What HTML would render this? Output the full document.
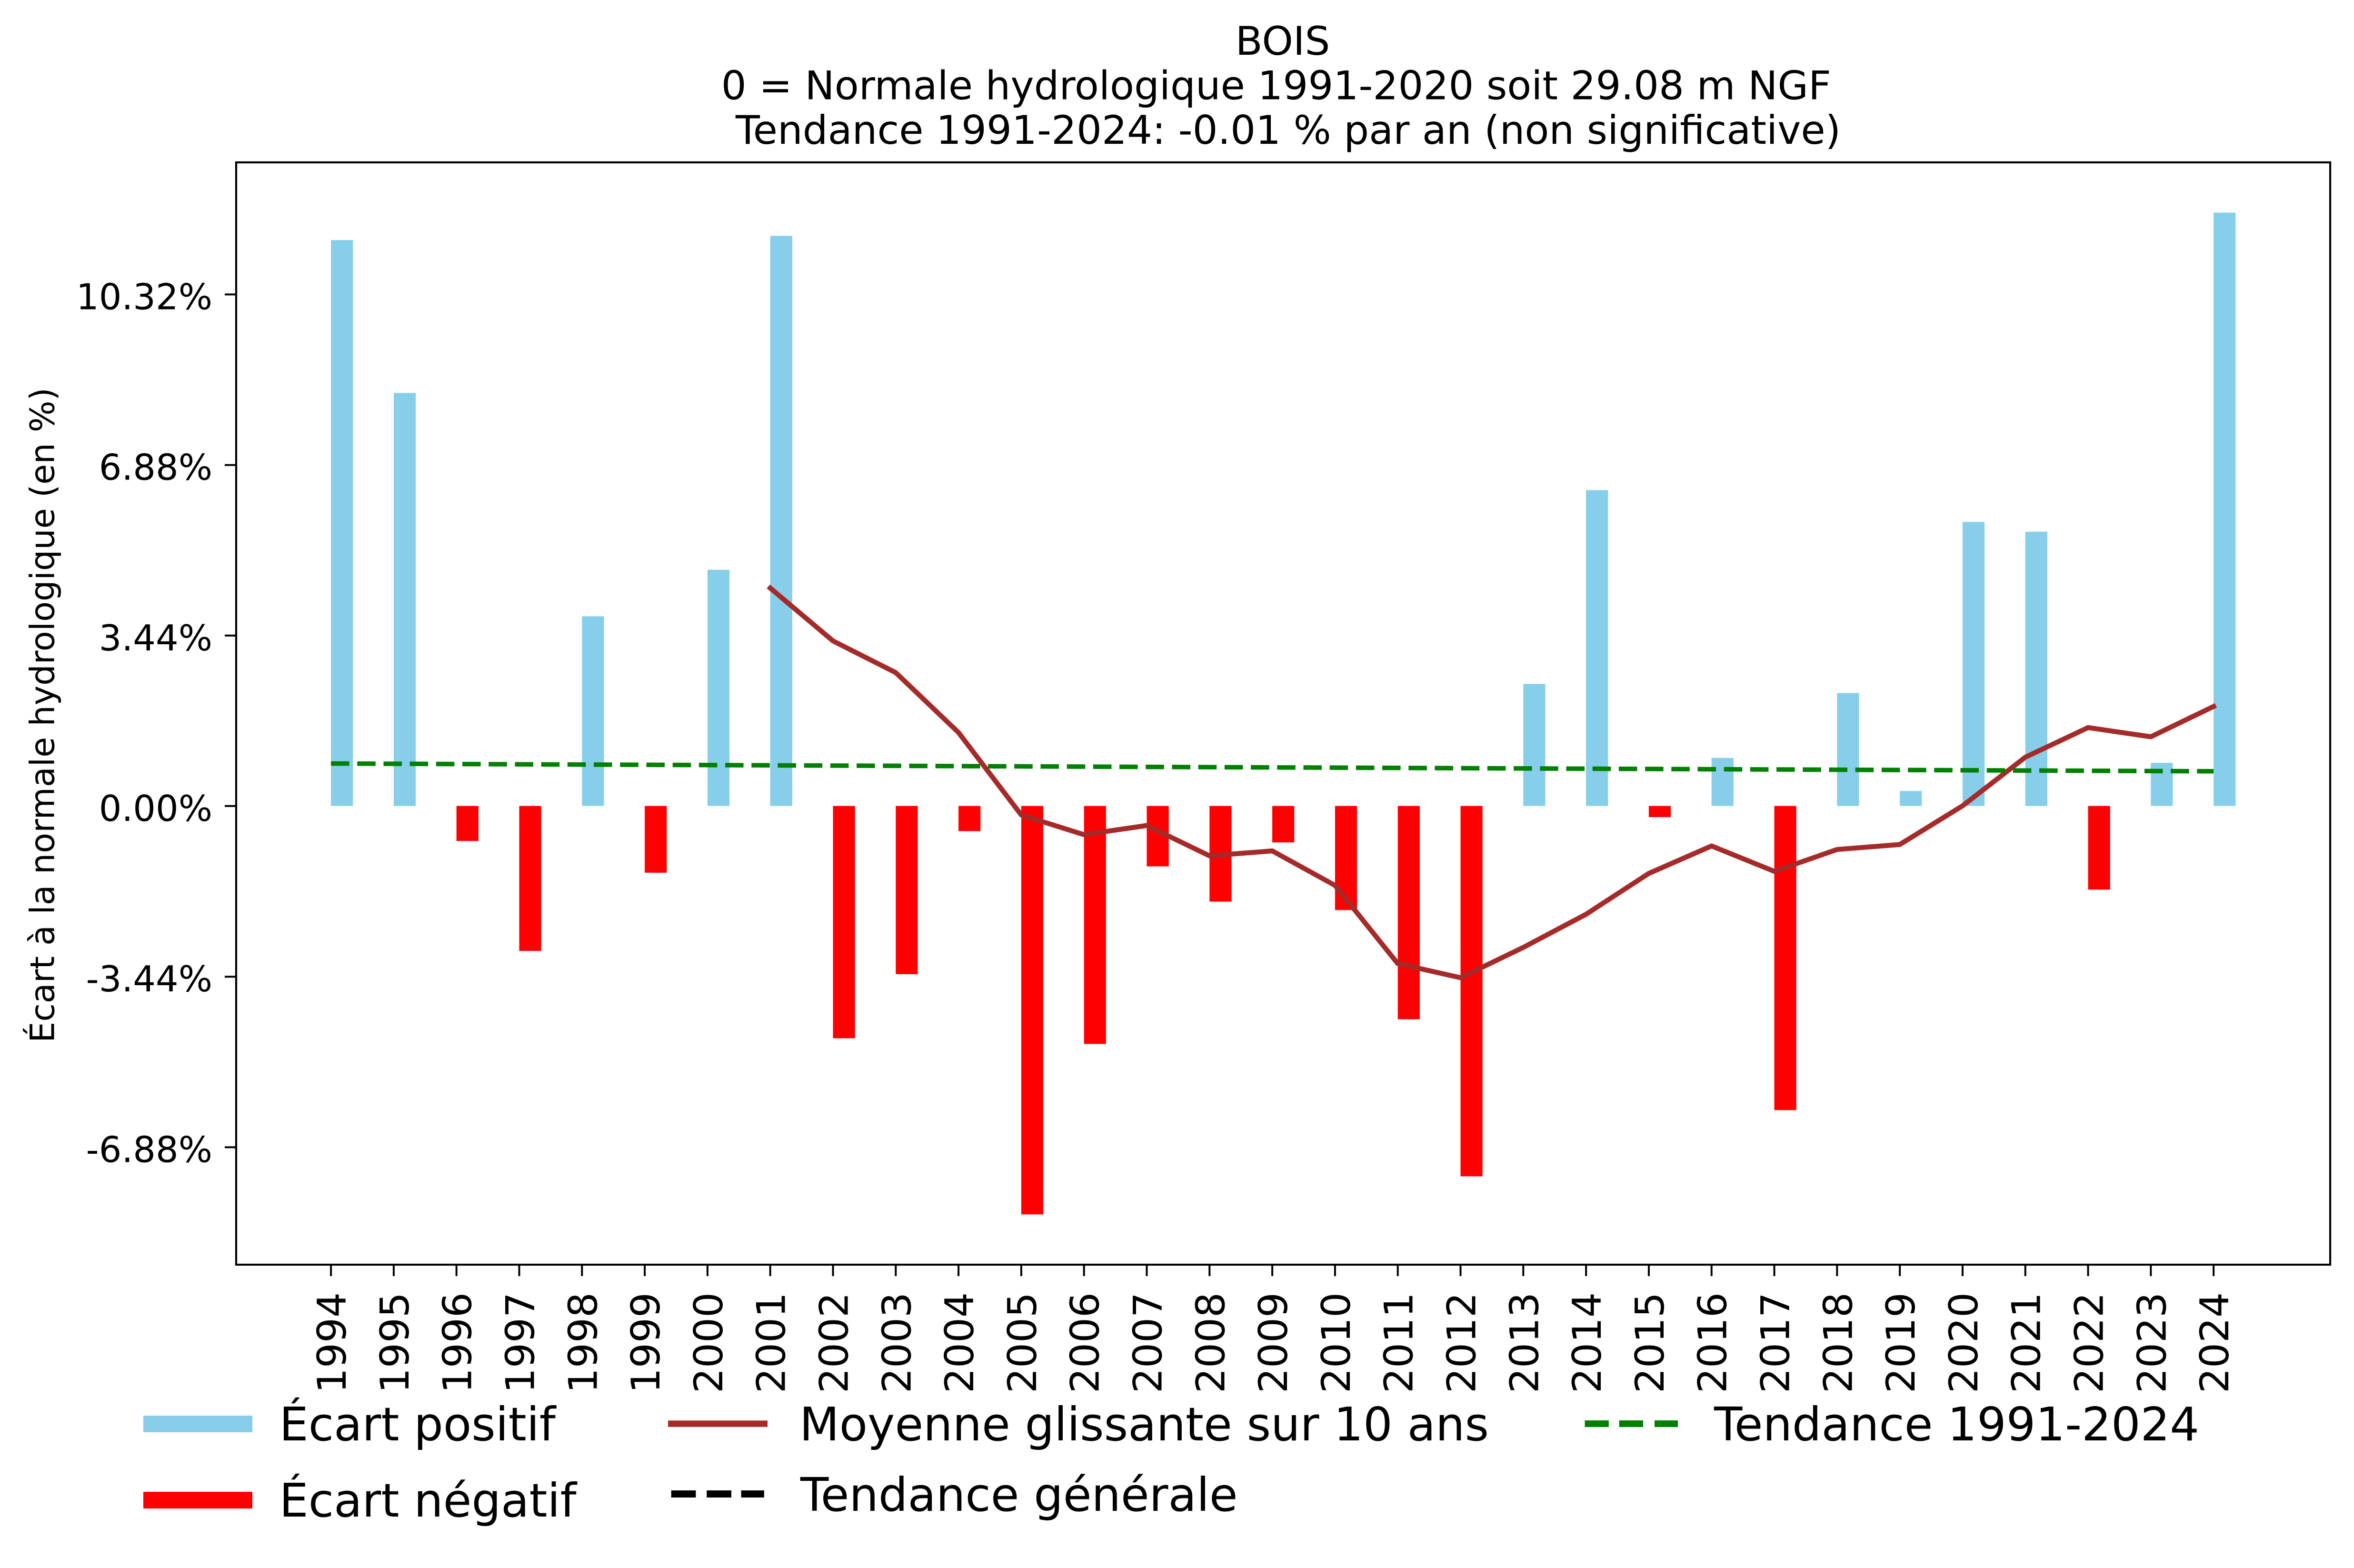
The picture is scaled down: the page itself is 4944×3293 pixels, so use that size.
<!DOCTYPE html>
<html>
<head>
<meta charset="utf-8">
<style>
html,body{margin:0;padding:0;background:#fff;}
svg{display:block;}
text{font-family:"DejaVu Sans","Liberation Sans",sans-serif;fill:#000;}
</style>
</head>
<body>
<svg xmlns="http://www.w3.org/2000/svg" width="4944" height="3293" viewBox="0 0 4944 3293">
<rect x="0" y="0" width="4944" height="3293" fill="#fff"/>

<!-- Title -->
<text x="2694" y="115" font-size="83.3" text-anchor="middle">BOIS</text>
<text x="1514.7" y="208.5" font-size="83.3">0 = Normale hydrologique 1991-2020 soit 29.08 m NGF</text>
<text x="1545" y="302" font-size="83.3">Tendance 1991-2024: -0.01 % par an (non significative)</text>

<!-- Positive bars -->
<g fill="#87CEEB">
<rect x="695.1" y="504.2" width="46.2" height="1188.4"/>
<rect x="826.9" y="825.3" width="46.2" height="867.3"/>
<rect x="1222.3" y="1294.3" width="46.2" height="398.3"/>
<rect x="1485.9" y="1196.6" width="46.2" height="496"/>
<rect x="1617.7" y="495.3" width="46.2" height="1197.3"/>
<rect x="3199.3" y="1436.3" width="46.2" height="256.3"/>
<rect x="3331.1" y="1029.4" width="46.2" height="663.2"/>
<rect x="3594.7" y="1591.7" width="46.2" height="100.9"/>
<rect x="3858.3" y="1455.5" width="46.2" height="237.1"/>
<rect x="3990.1" y="1661.2" width="46.2" height="31.4"/>
<rect x="4121.9" y="1096" width="46.2" height="596.6"/>
<rect x="4253.7" y="1116.7" width="46.2" height="575.9"/>
<rect x="4517.3" y="1602" width="46.2" height="90.6"/>
<rect x="4649.1" y="446.5" width="46.2" height="1246.1"/>
</g>

<!-- Negative bars -->
<g fill="#FF0000">
<rect x="958.7" y="1692.6" width="46.2" height="73.6"/>
<rect x="1090.5" y="1692.6" width="46.2" height="304.4"/>
<rect x="1354.1" y="1692.6" width="46.2" height="140.2"/>
<rect x="1749.5" y="1692.6" width="46.2" height="487.9"/>
<rect x="1881.3" y="1692.6" width="46.2" height="353.3"/>
<rect x="2013.1" y="1692.6" width="46.2" height="52.9"/>
<rect x="2144.9" y="1692.6" width="46.2" height="857.8"/>
<rect x="2276.7" y="1692.6" width="46.2" height="499.8"/>
<rect x="2408.5" y="1692.6" width="46.2" height="126.9"/>
<rect x="2540.3" y="1692.6" width="46.2" height="200.9"/>
<rect x="2672.1" y="1692.6" width="46.2" height="76.6"/>
<rect x="2803.9" y="1692.6" width="46.2" height="218.6"/>
<rect x="2935.7" y="1692.6" width="46.2" height="448"/>
<rect x="3067.5" y="1692.6" width="46.2" height="777.9"/>
<rect x="3462.9" y="1692.6" width="46.2" height="23.4"/>
<rect x="3726.5" y="1692.6" width="46.2" height="638.8"/>
<rect x="4385.5" y="1692.6" width="46.2" height="175.7"/>
</g>

<!-- Moving average -->
<polyline fill="none" stroke="#A52A2A" stroke-width="10.4" stroke-linecap="square" stroke-linejoin="round"
points="1617.7,1235 1749.5,1346 1881.3,1412.6 2013.1,1538.4 2144.9,1711.5 2276.7,1752.9 2408.5,1733.7 2540.3,1797.3 2672.1,1787 2803.9,1859.5 2935.7,2023.7 3067.5,2053.3 3199.3,1989.7 3331.1,1920.1 3462.9,1834.3 3594.7,1776.6 3726.5,1829.9 3858.3,1784 3990.1,1773.6 4121.9,1692.3 4253.7,1590.2 4385.5,1528 4517.3,1547.3 4649.1,1483.7"/>

<!-- Trend 1991-2024 -->
<line x1="695.1" y1="1603.5" x2="4649.1" y2="1619.8" stroke="#008000" stroke-width="9.5" stroke-dasharray="38.5 16.7" stroke-linecap="butt"/>

<!-- Axes frame -->
<rect x="496" y="341" width="4398" height="2315" fill="none" stroke="#000" stroke-width="4.2"/>

<!-- Y ticks -->
<g stroke="#000" stroke-width="4">
<line x1="472" y1="618.4" x2="496" y2="618.4"/>
<line x1="472" y1="976.6" x2="496" y2="976.6"/>
<line x1="472" y1="1334.8" x2="496" y2="1334.8"/>
<line x1="472" y1="1692.8" x2="496" y2="1692.8"/>
<line x1="472" y1="2051.2" x2="496" y2="2051.2"/>
<line x1="472" y1="2409.4" x2="496" y2="2409.4"/>
</g>
<g font-size="75" text-anchor="end">
<text x="446" y="649.4">10.32%</text>
<text x="446" y="1007.6">6.88%</text>
<text x="446" y="1365.8">3.44%</text>
<text x="446" y="1723.8">0.00%</text>
<text x="446" y="2082.2">-3.44%</text>
<text x="446" y="2440.4">-6.88%</text>
</g>

<!-- Y label -->
<text transform="translate(113.5,1502) rotate(-90)" font-size="70" text-anchor="middle">Écart à la normale hydrologique (en %)</text>

<!-- X ticks -->
<g stroke="#000" stroke-width="4">
<line x1="695.1" y1="2656" x2="695.1" y2="2680"/>
<line x1="826.9" y1="2656" x2="826.9" y2="2680"/>
<line x1="958.7" y1="2656" x2="958.7" y2="2680"/>
<line x1="1090.5" y1="2656" x2="1090.5" y2="2680"/>
<line x1="1222.3" y1="2656" x2="1222.3" y2="2680"/>
<line x1="1354.1" y1="2656" x2="1354.1" y2="2680"/>
<line x1="1485.9" y1="2656" x2="1485.9" y2="2680"/>
<line x1="1617.7" y1="2656" x2="1617.7" y2="2680"/>
<line x1="1749.5" y1="2656" x2="1749.5" y2="2680"/>
<line x1="1881.3" y1="2656" x2="1881.3" y2="2680"/>
<line x1="2013.1" y1="2656" x2="2013.1" y2="2680"/>
<line x1="2144.9" y1="2656" x2="2144.9" y2="2680"/>
<line x1="2276.7" y1="2656" x2="2276.7" y2="2680"/>
<line x1="2408.5" y1="2656" x2="2408.5" y2="2680"/>
<line x1="2540.3" y1="2656" x2="2540.3" y2="2680"/>
<line x1="2672.1" y1="2656" x2="2672.1" y2="2680"/>
<line x1="2803.9" y1="2656" x2="2803.9" y2="2680"/>
<line x1="2935.7" y1="2656" x2="2935.7" y2="2680"/>
<line x1="3067.5" y1="2656" x2="3067.5" y2="2680"/>
<line x1="3199.3" y1="2656" x2="3199.3" y2="2680"/>
<line x1="3331.1" y1="2656" x2="3331.1" y2="2680"/>
<line x1="3462.9" y1="2656" x2="3462.9" y2="2680"/>
<line x1="3594.7" y1="2656" x2="3594.7" y2="2680"/>
<line x1="3726.5" y1="2656" x2="3726.5" y2="2680"/>
<line x1="3858.3" y1="2656" x2="3858.3" y2="2680"/>
<line x1="3990.1" y1="2656" x2="3990.1" y2="2680"/>
<line x1="4121.9" y1="2656" x2="4121.9" y2="2680"/>
<line x1="4253.7" y1="2656" x2="4253.7" y2="2680"/>
<line x1="4385.5" y1="2656" x2="4385.5" y2="2680"/>
<line x1="4517.3" y1="2656" x2="4517.3" y2="2680"/>
<line x1="4649.1" y1="2656" x2="4649.1" y2="2680"/>
</g>
<g font-size="83.3" text-anchor="end">
<text transform="translate(726.1,2714) rotate(-90)">1994</text>
<text transform="translate(857.9,2714) rotate(-90)">1995</text>
<text transform="translate(989.7,2714) rotate(-90)">1996</text>
<text transform="translate(1121.5,2714) rotate(-90)">1997</text>
<text transform="translate(1253.3,2714) rotate(-90)">1998</text>
<text transform="translate(1385.1,2714) rotate(-90)">1999</text>
<text transform="translate(1516.9,2714) rotate(-90)">2000</text>
<text transform="translate(1648.7,2714) rotate(-90)">2001</text>
<text transform="translate(1780.5,2714) rotate(-90)">2002</text>
<text transform="translate(1912.3,2714) rotate(-90)">2003</text>
<text transform="translate(2044.1,2714) rotate(-90)">2004</text>
<text transform="translate(2175.9,2714) rotate(-90)">2005</text>
<text transform="translate(2307.7,2714) rotate(-90)">2006</text>
<text transform="translate(2439.5,2714) rotate(-90)">2007</text>
<text transform="translate(2571.3,2714) rotate(-90)">2008</text>
<text transform="translate(2703.1,2714) rotate(-90)">2009</text>
<text transform="translate(2834.9,2714) rotate(-90)">2010</text>
<text transform="translate(2966.7,2714) rotate(-90)">2011</text>
<text transform="translate(3098.5,2714) rotate(-90)">2012</text>
<text transform="translate(3230.3,2714) rotate(-90)">2013</text>
<text transform="translate(3362.1,2714) rotate(-90)">2014</text>
<text transform="translate(3493.9,2714) rotate(-90)">2015</text>
<text transform="translate(3625.7,2714) rotate(-90)">2016</text>
<text transform="translate(3757.5,2714) rotate(-90)">2017</text>
<text transform="translate(3889.3,2714) rotate(-90)">2018</text>
<text transform="translate(4021.1,2714) rotate(-90)">2019</text>
<text transform="translate(4152.9,2714) rotate(-90)">2020</text>
<text transform="translate(4284.7,2714) rotate(-90)">2021</text>
<text transform="translate(4416.5,2714) rotate(-90)">2022</text>
<text transform="translate(4548.3,2714) rotate(-90)">2023</text>
<text transform="translate(4680.1,2714) rotate(-90)">2024</text>
</g>

<!-- Legend -->
<rect x="301" y="2973" width="229" height="35" fill="#87CEEB"/>
<rect x="301" y="3133" width="229" height="35" fill="#FF0000"/>
<rect x="1403" y="2983.3" width="209" height="13.4" fill="#A52A2A"/>
<g fill="#000">
<rect x="1409.7" y="3130" width="51.7" height="15"/>
<rect x="1484.3" y="3130" width="51.7" height="15"/>
<rect x="1556.6" y="3130" width="48.3" height="15"/>
</g>
<g fill="#008000">
<rect x="3328.5" y="2983" width="50.3" height="14"/>
<rect x="3400.6" y="2983" width="50.4" height="14"/>
<rect x="3475" y="2983" width="49" height="14"/>
</g>
<g font-size="97">
<text x="586.5" y="3025">Écart positif</text>
<text x="586.5" y="3185">Écart négatif</text>
<text x="1679" y="3025">Moyenne glissante sur 10 ans</text>
<text x="1681" y="3173">Tendance générale</text>
<text x="3600" y="3025">Tendance 1991-2024</text>
</g>
</svg>
</body>
</html>
